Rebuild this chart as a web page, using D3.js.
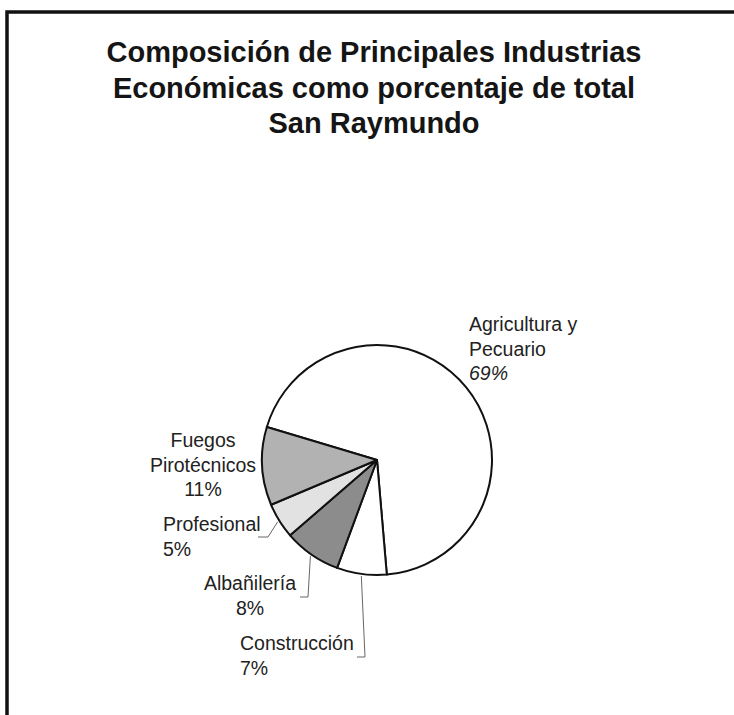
<!DOCTYPE html>
<head>
  <meta charset="utf-8">
  <script src="https://d3js.org/d3.v7.min.js"></script>
  <style>
    body { margin: 0; background: #fff; }
    svg { display: block; background-color: #fff; }
    .title { font-family: "Liberation Sans", Arial, sans-serif; font-weight: bold; font-size: 29px; fill: #151515; }
    .lbl { font-family: "Liberation Sans", Arial, sans-serif; font-size: 19.5px; fill: #222; }
  </style>
</head>
<body>
  <svg id="chart" width="734" height="715"></svg>
  <script>
    // data
    var categories = ["Agricultura y Pecuario", "Construcción", "Albañilería", "Profesional", "Fuegos Pirotécnicos"];
    var values = [69, 7, 8, 5, 11];
    var labelLines = [["Agricultura y", "Pecuario"], ["Construcción"], ["Albañilería"], ["Profesional"], ["Fuegos", "Pirotécnicos"]];
    var titleLines = ["Composición de Principales Industrias", "Económicas como porcentaje de total", "San Raymundo"];

    var fills = ["#ffffff", "#ffffff", "#8c8c8c", "#e2e2e2", "#b2b2b2"];

    var svg = d3.select("#chart"),
      width = +svg.attr("width"),
      height = +svg.attr("height");

    // frame (scanned page edge)
    svg.append("path")
      .attr("d", "M7,715 V12 H734")
      .attr("fill", "none")
      .attr("stroke", "#111")
      .attr("stroke-width", 3.5);

    // title
    svg.append("g").selectAll("text")
      .data(titleLines)
      .enter().append("text")
      .attr("class", "title")
      .attr("x", 374)
      .attr("y", function (d, i) { return 62 + i * 35.5; })
      .attr("text-anchor", "middle")
      .text(function (d) { return d; });

    var cx = 377, cy = 460, r = 115;
    var startA = -73.3 * Math.PI / 180;

    var pie = d3.pie().sort(null).value(function (d) { return d; })
      .startAngle(startA).endAngle(startA + 2 * Math.PI);
    var arcs = pie(values);
    var arc = d3.arc().innerRadius(0).outerRadius(r);

    var g = svg.append("g").attr("transform", "translate(" + cx + "," + cy + ")");

    g.selectAll("path")
      .data(arcs)
      .enter().append("path")
      .attr("d", arc)
      .attr("fill", function (d, i) { return fills[i]; })
      .attr("stroke", "#111")
      .attr("stroke-width", 2)
      .attr("stroke-linejoin", "round");

    // label layout (relative to pie centre): text position and leader elbow
    var layout = [
      { x: 92, y: -129, anchor: "start", leader: null, italicPct: true },
      { x: -137, y: 190, anchor: "start", leader: { ex: -12, ey: 197, tail: 8 } },
      { x: -127, y: 130, anchor: "middle", leader: { ex: -69, ey: 137, tail: 8 } },
      { x: -214, y: 71, anchor: "start", leader: { ex: -109, ey: 77, tail: 10 } },
      { x: -174, y: -13, anchor: "middle", leader: null }
    ];

    function pointOnArc(a, rad) {
      return [rad * Math.sin(a), -rad * Math.cos(a)];
    }

    arcs.forEach(function (d, i) {
      var L = layout[i];
      var lines = labelLines[i].concat([values[i] + "%"]);
      var t = g.append("text")
        .attr("class", "lbl")
        .attr("text-anchor", L.anchor);
      lines.forEach(function (s, k) {
        var ts = t.append("tspan")
          .attr("x", L.x)
          .attr("y", L.y + k * 24.5)
          .text(s);
        if (L.italicPct && k == lines.length - 1) ts.style("font-style", "italic");
      });
      if (L.leader) {
        var mid = (d.startAngle + d.endAngle) / 2;
        var p = pointOnArc(mid, r + 2);
        var pts = [p, [L.leader.ex, L.leader.ey], [L.leader.ex - L.leader.tail, L.leader.ey]];
        g.append("path")
          .attr("d", d3.line()(pts))
          .attr("fill", "none")
          .attr("stroke", "#666")
          .attr("stroke-width", 1);
      }
    });
  </script>
</body>
</html>
